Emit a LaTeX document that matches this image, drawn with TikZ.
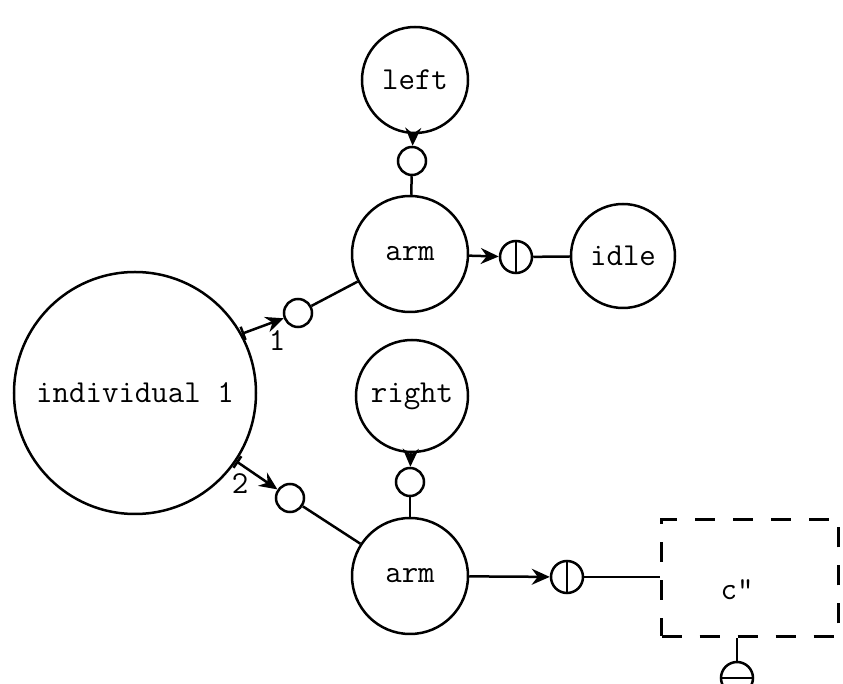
\documentclass[tikz,border=0pt]{standalone}
\usetikzlibrary{arrows.meta}

\begin{document}
\begin{tikzpicture}
		[x=0.5pt, y=-0.5pt, line width=1.25pt, >={Stealth[length=9pt,width=8pt,inset=3pt]},
		every node/.style={circle,draw,inner sep=0pt,font=\ttfamily\fontsize{16}{19}\selectfont},
		place/.style={minimum size=14pt},
		vplace/.style={minimum size=16pt,path picture={\draw (path picture bounding box.north) -- (path picture bounding box.south);}},
		hplace/.style={minimum size=16pt,path picture={\draw (path picture bounding box.west) -- (path picture bounding box.east);}}]
		\useasboundingbox (0,0) rectangle (843,684);
		\clip (0,0) rectangle (843,684);
		\node (indiv) [minimum size=121pt] at (135,393) {individual 1};
		\node (left) [minimum size=53pt] at (415,80) {left};
		\node (pl) [place] at (412,161) {};
		\node (arm1) [minimum size=58pt] at (410,254) {arm};
		\node (t1) [vplace] at (516,257) {};
		\node (idle) [minimum size=52pt] at (623,256) {idle};
		\node (right) [minimum size=56pt] at (412,396) {right};
		\node (pr) [place] at (410,482) {};
		\node (arm2) [minimum size=58pt] at (410,576) {arm};
		\node (t2) [vplace] at (567,577) {};
		\node (cbox) [rectangle,dashed,dash pattern=on 10pt off 9pt,minimum width=88.5pt,minimum height=58.5pt] at (750,578) {};
		\node (ctext) [draw=none] at (737,590) {c"};
		\node (minus) [hplace] at (737,678) {};
		\node (p1) [place] at (298,313) {};
		\node (p2) [place] at (290,498) {};
		\node (one) [draw=none] at (277,341) {1};
		\node (two) [draw=none] at (240,484) {2};
		% arcs
		\draw [->] (left) -- (pl);
		\draw (pl) -- (arm1);
		\draw [->] (right) -- (pr);
		\draw (pr) -- (arm2);
		\draw [->] (arm1) -- (t1);
		\draw (t1) -- (idle);
		\draw [->] (arm2) -- (t2);
		\draw (t2) -- (cbox.west |- t2);
		\draw (minus) -- (minus |- cbox.south);
		\draw [{Bar[width=7pt]}->] (indiv.29) -- (p1);
		\draw (p1) -- (arm1);
		\draw [{Bar[width=7pt]}->] (indiv.-34) -- (p2);
		\draw (p2) -- (arm2);
	\end{tikzpicture}
\end{document}
